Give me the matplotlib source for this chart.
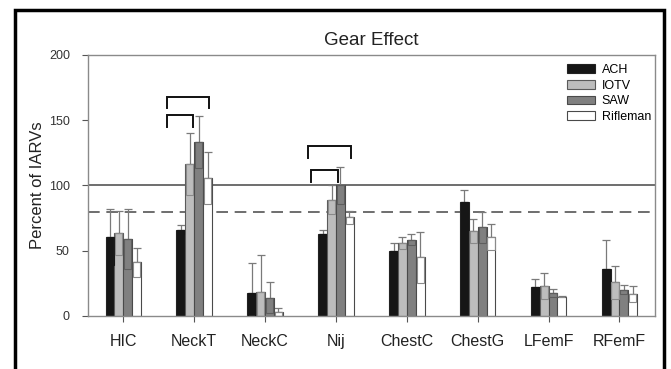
import matplotlib.pyplot as plt
import numpy as np
from matplotlib.patches import Rectangle

plt.rcParams['font.family'] = ['Liberation Sans', 'DejaVu Sans']

categories = ['HIC', 'NeckT', 'NeckC', 'Nij', 'ChestC', 'ChestG', 'LFemF', 'RFemF']
groups = ['ACH', 'IOTV', 'SAW', 'Rifleman']

# mean percent of IARV per body region, one list per gear configuration
ach = [60.8, 66.0, 17.9, 63.0, 49.8, 87.4, 22.5, 35.8]
iotv = [63.3, 116.5, 18.0, 89.0, 56.0, 65.0, 23.0, 25.8]
saw = [59.0, 133.6, 14.0, 100.0, 58.5, 68.0, 17.4, 20.0]
rifleman = [41.0, 106.0, 3.0, 75.6, 45.0, 60.3, 14.8, 17.0]

# standard deviations
ach_sd = [21.5, 3.5, 23.0, 2.6, 6.0, 9.0, 5.6, 22.0]
iotv_sd = [17.0, 24.0, 28.5, 11.0, 4.5, 9.0, 10.0, 12.5]
saw_sd = [22.7, 20.0, 12.0, 14.5, 4.0, 12.0, 3.0, 3.5]
rifleman_sd = [11.0, 20.0, 3.4, 5.0, 19.5, 10.0, 0.4, 6.0]

# significance brackets: (category index, left offset, right offset, height)
brackets = [(1, -0.39, -0.02, 154), (1, -0.39, 0.21, 168),
            (3, -0.35, 0.03, 112), (3, -0.39, 0.21, 130)]

means = [ach, iotv, saw, rifleman]
sds = [ach_sd, iotv_sd, saw_sd, rifleman_sd]
colors = ['#161616', '#bdbdbd', '#808080', '#ffffff']
edges = ['#222222', '#5a5a5a', '#4a4a4a', '#4a4a4a']
inner = ['#161616', '#8a8a8a', '#5e5e5e', '#8a8a8a']

fig = plt.figure(figsize=(6.71, 3.69), dpi=100)
ax = fig.add_axes([0.131, 0.144, 0.845, 0.707])

x = np.arange(len(categories))
w = 0.125
for i, (m, s) in enumerate(zip(means, sds)):
    m = np.array(m)
    s = np.array(s)
    xpos = x + (i - 1.5) * w
    ax.bar(xpos, m, width=w, color=colors[i], edgecolor=edges[i], linewidth=0.8,
           label=groups[i], zorder=2)
    # lower half of the error bar drawn inside the bar
    low = np.maximum(m - s, 0)
    ax.bar(xpos, m - low, bottom=low, width=w * 0.8, fill=False,
           edgecolor=inner[i], linewidth=0.8, zorder=3)
    ax.errorbar(xpos, m, yerr=[np.zeros_like(s), s], fmt='none', ecolor='#7a7a7a',
                elinewidth=0.9, capsize=3, capthick=0.9, zorder=1)

ax.axhline(100, color='#555555', lw=1.2, zorder=0)
ax.axhline(80, color='#555555', lw=1.2, ls=(0, (7, 4)), zorder=0)

for c, l, r, h in brackets:
    ax.plot([c + l, c + l, c + r, c + r], [h - 9, h, h, h - 9], color='#111111',
            lw=1.4, solid_joinstyle='miter')

ax.set_xlim(-0.5, len(categories) - 0.5)
ax.set_ylim(0, 200)
ax.set_yticks([0, 50, 100, 150, 200])
ax.set_xticks(x)
ax.set_xticklabels(categories, fontsize=11.5, color='#222222')
ax.tick_params(axis='x', length=4, color='#555555', pad=9, direction='out')
ax.tick_params(axis='y', length=4, color='#555555', pad=9, labelsize=9,
               labelcolor='#333333', direction='out')
for sp in ax.spines.values():
    sp.set_color('#8a8a8a')
    sp.set_linewidth(1.0)

ax.set_title('Gear Effect', fontsize=13.5, color='#222222', pad=7)
ax.set_ylabel('Percent of IARVs', fontsize=12, color='#222222')
ax.yaxis.set_label_coords(-0.075, 0.5)

ax.legend(loc='upper right', bbox_to_anchor=(1.002, 0.985), frameon=False,
          fontsize=9, handlelength=2.3, handleheight=0.7, labelspacing=0.3,
          handletextpad=0.5, borderaxespad=0)

# black frame around the whole figure
fig.patches.append(Rectangle((15 / 671, -0.2), 649 / 671, 1.2 - 10 / 369,
                             transform=fig.transFigure, fill=False,
                             edgecolor='black', linewidth=2.5))

fig.savefig('out.png', dpi=100)
